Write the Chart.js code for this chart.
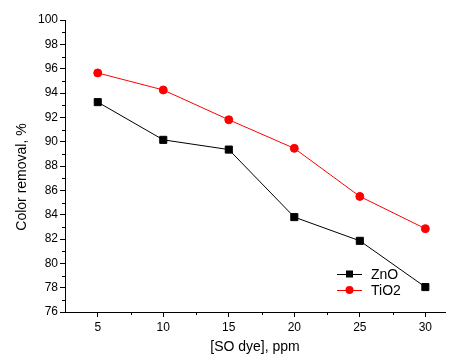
<!DOCTYPE html>
<html>
<head>
<meta charset="utf-8">
<script src="https://cdn.jsdelivr.net/npm/chart.js@4"></script>
<style>
  html, body { margin: 0; padding: 0; background: #fff; }
  #wrap { width: 451px; height: 356px; position: relative; }
</style>
</head>
<body>
<div id="wrap"><canvas id="chart"></canvas></div>
<script>
// данные
const concentrations = [5, 10, 15, 20, 25, 30];
const znoValues = [93.25, 90.15, 89.35, 83.8, 81.85, 78.05];
const tio2Values = [95.65, 94.25, 91.8, 89.45, 85.5, 82.85];
const xTicks = [5, 10, 15, 20, 25, 30];
const yTicks = [76, 78, 80, 82, 84, 86, 88, 90, 92, 94, 96, 98, 100];

const FONT = 'Liberation Sans, Arial, sans-serif';

const toPoints = vals => concentrations.map((c, i) => ({ x: c, y: vals[i] }));

// малые засечки, подпись оси Y и легенда внутри поля
const extras = {
  id: 'extras',
  afterDraw(chart) {
    const { ctx, scales: { x, y }, chartArea: a } = chart;
    ctx.save();
    ctx.strokeStyle = '#000';
    ctx.lineWidth = 1;
    ctx.beginPath();
    for (let v = 77; v < 100; v += 2) {
      const py = Math.round(y.getPixelForValue(v)) + 0.5;
      ctx.moveTo(a.left - 3, py); ctx.lineTo(a.left, py);
    }
    for (let v = 7.5; v < 31.5; v += 5) {
      const px = Math.round(x.getPixelForValue(v)) + 0.5;
      ctx.moveTo(px, a.bottom); ctx.lineTo(px, a.bottom + 3);
    }
    ctx.stroke();

    // подпись оси Y
    ctx.save();
    ctx.translate(22, 177);
    ctx.rotate(-Math.PI / 2);
    ctx.fillStyle = '#000';
    ctx.font = '14px ' + FONT;
    ctx.textAlign = 'center';
    ctx.textBaseline = 'middle';
    ctx.fillText('Color removal, %', 0, 0);
    ctx.restore();

    // легенда
    const items = [
      { label: 'ZnO', color: '#000', style: 'rect', y: 274 },
      { label: 'TiO2', color: '#ff0000', style: 'circle', y: 290 }
    ];
    items.forEach(it => {
      ctx.strokeStyle = it.color;
      ctx.fillStyle = it.color;
      ctx.beginPath();
      ctx.moveTo(337, it.y + 0.5); ctx.lineTo(362, it.y + 0.5);
      ctx.stroke();
      ctx.beginPath();
      if (it.style === 'rect') ctx.rect(346, it.y - 3.5, 7, 7);
      else ctx.arc(349.5, it.y, 4, 0, Math.PI * 2);
      ctx.fill();
      ctx.fillStyle = '#000';
      ctx.font = '14px ' + FONT;
      ctx.textBaseline = 'middle';
      ctx.textAlign = 'left';
      ctx.fillText(it.label, 371, it.y + 1);
    });
    ctx.restore();
  }
};

new Chart(document.getElementById('chart'), {
  type: 'line',
  data: {
    datasets: [
      { label: 'ZnO', data: toPoints(znoValues), borderColor: '#000', backgroundColor: '#000',
        borderWidth: 1, pointStyle: 'rect', pointRadius: 5, pointHoverRadius: 5, tension: 0 },
      { label: 'TiO2', data: toPoints(tio2Values), borderColor: '#ff0000', backgroundColor: '#ff0000',
        borderWidth: 1, pointStyle: 'circle', pointRadius: 4, pointHoverRadius: 4, tension: 0 }
    ]
  },
  options: {
    responsive: true,
    maintainAspectRatio: false,
    animation: false,
    layout: { padding: { top: 20, right: 0, left: 0, bottom: 0 } },
    plugins: { legend: { display: false }, tooltip: { enabled: false } },
    scales: {
      x: {
        type: 'linear', min: 2.5, max: 31.5,
        afterBuildTicks: s => { s.ticks = xTicks.map(v => ({ value: v })); },
        afterFit: s => { s.height = 44; },
        grid: { drawOnChartArea: false, color: '#000', tickLength: 5, tickColor: '#000' },
        border: { color: '#000', width: 1 },
        ticks: { color: '#000', font: { family: FONT, size: 12 }, padding: 3, maxRotation: 0 },
        title: { display: true, text: '[SO dye], ppm', color: '#000', font: { family: FONT, size: 14 }, padding: { top: 3, bottom: 0 } }
      },
      y: {
        min: 76, max: 100,
        afterBuildTicks: s => { s.ticks = yTicks.map(v => ({ value: v })); },
        afterFit: s => { s.width = 65; },
        grid: { drawOnChartArea: false, color: '#000', tickLength: 5, tickColor: '#000' },
        border: { color: '#000', width: 1 },
        ticks: { color: '#000', font: { family: FONT, size: 12 }, padding: 2 },
        title: { display: false }
      }
    }
  },
  plugins: [extras]
});
</script>
</body>
</html>
